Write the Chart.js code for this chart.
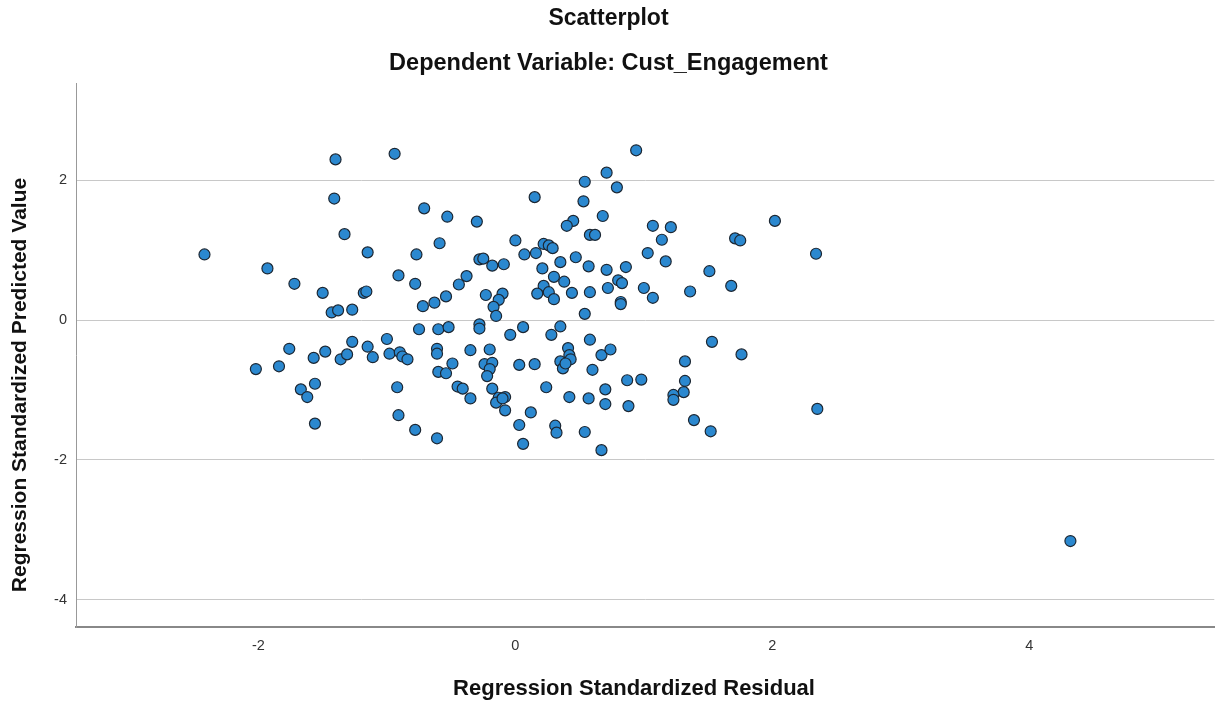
<!DOCTYPE html>
<html>
<head>
<meta charset="utf-8">
<title>Scatterplot</title>
<script src="https://cdn.jsdelivr.net/npm/chart.js@4.4.1/dist/chart.umd.min.js"></script>
<style>
  html, body { margin: 0; padding: 0; background: #ffffff; }
  #wrap { width: 1221px; height: 704px; }
</style>
</head>
<body>
<div id="wrap"><canvas id="chart" width="1221" height="704"></canvas></div>
<script>
// Regression standardized residual (x) vs. standardized predicted value (y)
const residuals = [
  -2.42, -1.93, -1.72, -1.50, -1.43, -1.38, -1.27, -1.40, -1.41, -1.33,
  -0.94, -0.71, -0.53, -0.30, -0.59, -1.15, -0.77, -0.28, -0.91, -0.78,
  -0.38, -0.44, -1.18, -1.16, -0.54, -0.63, -0.72, -0.75, -0.60, -0.52,
  -0.28, -0.28, -1.76, -1.57, -1.48, -1.36, -1.31, -1.27, -2.02, -1.84,
  -1.15, -1.11, -1.00, -0.98, -0.90, -0.88, -0.84, -0.61, -0.61, -0.35,
  -0.49, -0.60, -0.54, -0.45, -0.41, -0.35, -1.56, -1.67, -1.62, -1.56,
  -0.92, -0.91, -0.78, -0.61, 0.94, 0.71, 0.54, 0.79, 0.15, 0.53,
  0.68, 0.45, 0.40, 0.58, 0.62, 1.07, 1.21, 1.14, 0.00, 0.22,
  0.26, 0.29, 0.07, 0.16, 1.03, 1.17, 1.51, -0.25, -0.18, -0.09,
  0.21, 0.35, 0.47, 0.57, 0.71, 0.86, 0.30, 0.22, 0.26, 0.38,
  0.44, 0.58, 0.72, 0.80, 0.83, 1.00, 1.07, 1.36, 0.82, 0.82,
  0.54, 0.30, 0.17, -0.23, -0.10, -0.13, -0.17, -0.15, 0.06, 0.35,
  -0.04, 0.28, 0.58, 1.53, -0.20, -0.24, -0.18, -0.20, -0.22, 0.03,
  0.15, 0.41, 0.35, 0.42, 0.43, 0.37, 0.39, 0.67, 0.74, 0.60,
  -0.18, -0.13, -0.08, -0.15, -0.10, -0.08, 0.24, 0.42, 0.57, 0.70,
  0.70, 0.87, 0.98, 0.88, 1.32, 1.32, 1.31, 1.23, 1.23, 1.39,
  1.52, 0.12, 0.03, 0.31, 0.32, 0.54, 0.06, 0.67, 2.02, 1.71,
  1.75, 2.34, 1.68, 1.76, 2.35, 4.32
];
const predicted = [
  0.94, 0.74, 0.52, 0.39, 0.11, 0.14, 0.15, 2.30, 1.74, 1.23,
  2.38, 1.60, 1.48, 1.41, 1.10, 0.97, 0.94, 0.87, 0.64, 0.52,
  0.63, 0.51, 0.39, 0.41, 0.34, 0.25, 0.20, -0.13, -0.13, -0.10,
  -0.06, -0.12, -0.41, -0.54, -0.45, -0.56, -0.49, -0.31, -0.70, -0.66,
  -0.38, -0.53, -0.27, -0.48, -0.46, -0.52, -0.56, -0.41, -0.48, -0.43,
  -0.62, -0.74, -0.76, -0.95, -0.98, -1.12, -0.91, -0.99, -1.10, -1.48,
  -0.96, -1.36, -1.57, -1.69, 2.43, 2.11, 1.98, 1.90, 1.76, 1.70,
  1.49, 1.42, 1.35, 1.22, 1.22, 1.35, 1.33, 1.15, 1.14, 1.09,
  1.07, 1.03, 0.94, 0.96, 0.96, 0.84, 0.70, 0.88, 0.78, 0.80,
  0.74, 0.83, 0.90, 0.77, 0.72, 0.76, 0.62, 0.49, 0.40, 0.55,
  0.39, 0.40, 0.46, 0.57, 0.53, 0.46, 0.32, 0.41, 0.26, 0.23,
  0.09, 0.30, 0.38, 0.36, 0.38, 0.29, 0.19, 0.06, -0.10, -0.09,
  -0.21, -0.21, -0.28, -0.31, -0.42, -0.63, -0.61, -0.70, -0.80, -0.64,
  -0.63, -0.40, -0.59, -0.50, -0.56, -0.69, -0.62, -0.50, -0.42, -0.71,
  -0.98, -1.11, -1.10, -1.18, -1.12, -1.29, -0.96, -1.10, -1.12, -0.99,
  -1.20, -0.86, -0.85, -1.23, -0.59, -0.87, -1.03, -1.07, -1.14, -1.43,
  -1.59, -1.32, -1.50, -1.51, -1.61, -1.60, -1.77, -1.86, 1.42, 1.17,
  1.14, 0.95, 0.49, -0.49, -1.27, -3.16
];

const xTickValues = [-2, 0, 2, 4];
const yTickValues = [-4, -2, 0, 2];

const chartTitle = 'Scatterplot';
const chartSubtitle = 'Dependent Variable: Cust_Engagement';
const xAxisTitle = 'Regression Standardized Residual';
const yAxisTitle = 'Regression Standardized Predicted Value';

const points = residuals.map((r, i) => ({ x: r, y: predicted[i] }));

const FONT = "'Liberation Sans', Arial, sans-serif";

// Axis titles placed at fixed centres in the margins around the plot area.
const axisTitlePlugin = {
  id: 'axisTitles',
  afterDraw(chart) {
    const ctx = chart.ctx;
    ctx.save();
    ctx.fillStyle = '#111111';
    ctx.textAlign = 'center';
    ctx.textBaseline = 'middle';
    ctx.font = "bold 22px " + FONT;
    ctx.fillText(xAxisTitle, 634, 689);
    ctx.translate(20, 385);
    ctx.rotate(-Math.PI / 2);
    ctx.font = "bold 21px " + FONT;
    ctx.fillText(yAxisTitle, 0, 0);
    ctx.restore();
  }
};

new Chart(document.getElementById('chart'), {
  type: 'scatter',
  data: {
    datasets: [{
      data: points,
      pointRadius: 5.5,
      pointHoverRadius: 5.5,
      pointBackgroundColor: '#2B88CF',
      pointBorderColor: '#1C2733',
      pointBorderWidth: 1.2
    }]
  },
  plugins: [axisTitlePlugin],
  options: {
    responsive: false,
    animation: false,
    devicePixelRatio: 1,
    layout: { padding: { left: 0, right: 4, top: 0, bottom: 0 } },
    plugins: {
      legend: { display: false },
      tooltip: { enabled: false },
      title: {
        display: true,
        text: chartTitle,
        color: '#111111',
        font: { family: FONT, size: 23, weight: 'bold' },
        padding: { top: 4.6, bottom: 0 }
      },
      subtitle: {
        display: true,
        text: chartSubtitle,
        color: '#111111',
        font: { family: FONT, size: 23.5, weight: 'bold' },
        padding: { top: 16.8, bottom: 6.0 }
      }
    },
    scales: {
      x: {
        type: 'linear',
        min: -3.42,
        max: 5.44,
        afterBuildTicks: (scale) => { scale.ticks = xTickValues.map(v => ({ value: v })); },
        afterFit: (scale) => { scale.height = 77; },
        grid: { display: false, drawTicks: false },
        border: { display: true, color: '#888888', width: 2 },
        ticks: {
          padding: 10,
          color: '#333333',
          font: { family: FONT, size: 14.5 }
        },
        title: { display: false }
      },
      y: {
        type: 'linear',
        min: -4.39,
        max: 3.39,
        afterBuildTicks: (scale) => { scale.ticks = yTickValues.map(v => ({ value: v })); },
        afterFit: (scale) => { scale.width = 76; },
        grid: { display: true, color: '#C8C8C8', lineWidth: 1, drawTicks: false },
        border: { display: true, color: '#999999', width: 1 },
        ticks: {
          padding: 9,
          color: '#333333',
          font: { family: FONT, size: 14.5 }
        },
        title: { display: false }
      }
    }
  }
});
</script>
</body>
</html>
